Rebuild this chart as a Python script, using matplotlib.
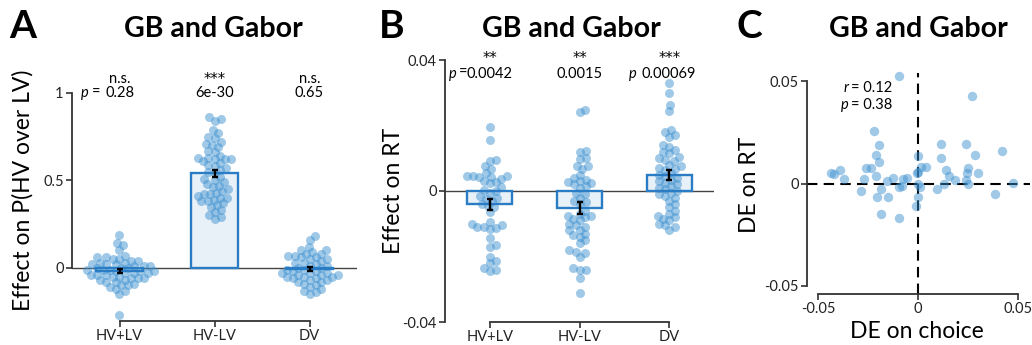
import numpy as np
import matplotlib
matplotlib.use("Agg")
import matplotlib.pyplot as plt

plt.rcParams['font.family'] = ['Lato', 'DejaVu Sans']

# ---- data ----
categories = ["HV+LV", "HV-LV", "DV"]

choice_hvlv_sum = [0.19, 0.14, 0.13, 0.10, 0.07, 0.06, 0.06, 0.05, 0.05, 0.04, 0.04, 0.03, 0.03,
                   0.02, 0.02, 0.02, 0.01, 0.01, 0.01, 0.0, 0.0, 0.0, -0.01, -0.01, -0.01, -0.02,
                   -0.02, -0.02, -0.03, -0.03, -0.03, -0.04, -0.04, -0.04, -0.05, -0.05, -0.06,
                   -0.06, -0.06, -0.07, -0.07, -0.08, -0.08, -0.09, -0.10, -0.10, -0.11, -0.12,
                   -0.13, -0.15, -0.27]
choice_hvlv_diff = [0.86, 0.85, 0.84, 0.79, 0.77, 0.75, 0.74, 0.72, 0.71, 0.70, 0.69, 0.67, 0.66,
                    0.64, 0.63, 0.63, 0.62, 0.62, 0.62, 0.61, 0.60, 0.59, 0.58, 0.57, 0.56, 0.55,
                    0.54, 0.52, 0.51, 0.50, 0.49, 0.48, 0.47, 0.46, 0.45, 0.44, 0.43, 0.42, 0.42,
                    0.41, 0.40, 0.40, 0.39, 0.38, 0.38, 0.37, 0.36, 0.35, 0.33, 0.32, 0.30, 0.29,
                    0.28]
choice_dv = [0.18, 0.16, 0.12, 0.10, 0.10, 0.09, 0.08, 0.08, 0.07, 0.07, 0.06, 0.06, 0.05, 0.05,
             0.04, 0.03, 0.03, 0.02, 0.01, 0.01, 0.0, 0.0, -0.01, -0.01, -0.02, -0.02, -0.03,
             -0.03, -0.03, -0.04, -0.04, -0.04, -0.05, -0.05, -0.05, -0.06, -0.06, -0.07, -0.07,
             -0.08, -0.08, -0.09, -0.10, -0.11, -0.12, -0.13, -0.14, -0.15]

rt_hvlv_sum = [0.0195, 0.0156, 0.0096, 0.0093, 0.0076, 0.0066, 0.0055, 0.0046, 0.0045, 0.0045,
               0.0044, 0.0044, 0.0037, 0.0030, 0.0027, 0.0025, 0.0013, 0.0002, 0.0001, -0.0005,
               -0.0015, -0.0020, -0.0025, -0.0030, -0.0040, -0.0045, -0.0050, -0.0065, -0.0095,
               -0.0100, -0.0105, -0.0110, -0.0110, -0.0112, -0.0115, -0.0145, -0.0165, -0.0170,
               -0.0200, -0.0215, -0.0220, -0.0235, -0.0240, -0.0245]
rt_hvlv_diff = [0.0246, 0.0240, 0.0123, 0.0120, 0.0100, 0.0098, 0.0077, 0.0075, 0.0067, 0.0050,
                0.0040, 0.0035, 0.0030, 0.0027, 0.0025, 0.0020, 0.0015, 0.0010, -0.0005, -0.0010,
                -0.0020, -0.0030, -0.0035, -0.0040, -0.0060, -0.0070, -0.0075, -0.0075, -0.0080,
                -0.0085, -0.0090, -0.0100, -0.0105, -0.0110, -0.0120, -0.0120, -0.0130, -0.0135,
                -0.0140, -0.0150, -0.0160, -0.0180, -0.0185, -0.0190, -0.0200, -0.0235, -0.0240,
                -0.0240, -0.0265, -0.0310]
rt_dv = [0.0330, 0.0300, 0.0262, 0.0243, 0.0185, 0.0180, 0.0170, 0.0165, 0.0140, 0.0135, 0.0125,
         0.0120, 0.0115, 0.0105, 0.0100, 0.0095, 0.0092, 0.0080, 0.0077, 0.0070, 0.0068, 0.0065,
         0.0055, 0.0050, 0.0045, 0.0040, 0.0035, 0.0030, 0.0025, 0.0020, 0.0015, 0.0010, 0.0005,
         0.0000, -0.0005, -0.0010, -0.0015, -0.0020, -0.0030, -0.0040, -0.0050, -0.0060, -0.0070,
         -0.0075, -0.0080, -0.0085, -0.0090, -0.0100, -0.0105, -0.0110, -0.0120]

stars_choice = ["n.s.", "***", "n.s."]
pvals_choice = ["0.28", "6e-30", "0.65"]
stars_rt = ["**", "**", "***"]
pvals_rt = ["0.0042", "0.0015", "0.00069"]

de_choice = [-0.0095, 0.027, -0.022, -0.0193, 0.0113, 0.0238, 0.0418, -0.0212, 0.0, 0.0285,
             -0.0195, 0.0113, -0.0258, -0.0237, -0.039, -0.0435, -0.042, -0.0212, -0.037, -0.0268,
             -0.0153, -0.0125, -0.0057, -0.0077, -0.0078, -0.0093, 0.0, -0.0003, 0.0013, 0.004,
             0.001, 0.0138, 0.0153, 0.0187, 0.0132, 0.0097, 0.0252, 0.0245, 0.0298, 0.0242,
             0.0252, 0.0473, 0.0385, -0.0285, -0.0187, -0.0205, -0.0148, 0.0, -0.0008, -0.0185,
             -0.0095, 0.0]
de_rt = [0.0524, 0.0426, 0.0255, 0.0186, 0.0194, 0.0194, 0.0158, 0.0139, 0.0136, 0.014,
         0.0104, 0.0124, 0.0078, 0.0074, 0.0064, 0.0049, 0.0046, 0.0038, 0.002, 0.0021,
         0.001, 0.0028, 0.0029, 0.0021, -0.0011, -0.0016, 0.0054, 0.005, 0.008, 0.0083,
         -0.0016, 0.0064, 0.0036, 0.0016, -0.0003, -0.0026, 0.0078, 0.0052, 0.0052, 0.0018,
         -0.0002, 0.0001, -0.0049, -0.0036, -0.0025, -0.0064, -0.0067, -0.0064, -0.0108, -0.0149,
         -0.0168, 0.0]
corr_r = "0.12"
corr_p = "0.38"

# ---- style ----
W, H = 1032, 345
dot_color = '#3a8fd0'
bar_edge = '#2a7cc4'
bar_face = '#e8f0f8'
spine_c = '#333333'
fs_small = 10.5


def rect(left, top, right, bottom):
    return [left / W, 1 - bottom / H, (right - left) / W, (bottom - top) / H]


def fx(px):
    return px / W


def fy(py):
    return 1 - py / H


def swarm_offsets(ax, x0, vals, d):
    pts = ax.transData.transform(np.column_stack([np.full(len(vals), x0), vals]))
    ys = pts[:, 1]
    order = np.argsort(ys)
    placed = []
    offs = np.zeros(len(vals))
    for i in order:
        y = ys[i]
        cands = [0.0]
        for px, py in placed:
            dy = abs(py - y)
            if dy < d:
                dx = np.sqrt(d * d - dy * dy)
                cands += [px + dx, px - dx]
        cands.sort(key=abs)
        for c in cands:
            if all((c - px) ** 2 + (y - py) ** 2 >= d * d - 1e-6 for px, py in placed):
                break
        placed.append((c, y))
        offs[i] = c
    x_pix = pts[0, 0] + offs
    return ax.transData.inverted().transform(np.column_stack([x_pix, ys]))[:, 0]


def style_axes(ax):
    for s in ['top', 'right']:
        ax.spines[s].set_visible(False)
    for s in ['left', 'bottom']:
        ax.spines[s].set_color(spine_c)
        ax.spines[s].set_linewidth(1.3)
    ax.tick_params(direction='out', length=4, width=1.2, color=spine_c,
                   labelsize=fs_small, labelcolor='#222222', pad=2)


def bar_panel(ax, groups, ylim):
    ax.set_xlim(-0.5, 2.5)
    ax.set_ylim(*ylim)
    ax.axhline(0, color='#444444', lw=1.0, zorder=1)
    for i, vals in enumerate(groups):
        vals = np.array(vals)
        m = vals.mean()
        sem = vals.std(ddof=1) / np.sqrt(len(vals))
        ax.bar(i, m, width=0.5, color=bar_face, edgecolor='none', zorder=1)
        xs = swarm_offsets(ax, i, vals, 6.3)
        ax.scatter(xs, vals, s=42, color=dot_color, alpha=0.48, linewidths=0, zorder=2)
        ax.bar(i, m, width=0.5, fill=False, edgecolor=bar_edge, linewidth=1.7, zorder=3)
        ax.errorbar(i, m, yerr=sem, color='black', capsize=2.5, elinewidth=1.7,
                    capthick=1.7, zorder=4)
    ax.set_xticks(range(len(categories)))
    ax.set_xticklabels(categories)
    ax.spines['bottom'].set_bounds(0, 2)


fig = plt.figure(figsize=(W / 100, H / 100), dpi=100)

# ---- panel A ----
axA = fig.add_axes(rect(72, 93, 357, 321))
style_axes(axA)
bar_panel(axA, [choice_hvlv_sum, choice_hvlv_diff, choice_dv], (-0.303, 1.0))
axA.set_yticks([0, 0.5, 1])
axA.set_yticklabels(["0", "0.5", "1"])
axA.spines['left'].set_bounds(0, 1)
for i in range(3):
    axA.text(i, 1.078, stars_choice[i], ha='center', va='center', fontsize=fs_small,
             family=['DejaVu Sans'] if '*' in stars_choice[i] else None)
    axA.text(i, 1.0, pvals_choice[i], ha='center', va='center', fontsize=fs_small)
axA.text(-0.33, 1.0, "p", ha='right', va='center', fontsize=fs_small, style='italic')
axA.text(-0.29, 1.0, "=", ha='left', va='center', fontsize=fs_small)

# ---- panel B ----
axB = fig.add_axes(rect(445, 60, 714, 322))
style_axes(axB)
bar_panel(axB, [rt_hvlv_sum, rt_hvlv_diff, rt_dv], (-0.04, 0.04))
axB.set_yticks([-0.04, 0, 0.04])
axB.set_yticklabels(["-0.04", "0", "0.04"])
axB.spines['left'].set_bounds(-0.04, 0.04)
for i in range(3):
    axB.text(i, 0.0405, stars_rt[i], ha='center', va='center', fontsize=fs_small,
             family=['DejaVu Sans'], clip_on=False)
    axB.text(i, 0.0357, pvals_rt[i], ha='center', va='center', fontsize=fs_small)
axB.text(-0.37, 0.0357, "p", ha='right', va='center', fontsize=fs_small, style='italic')
axB.text(-0.35, 0.036, "=", ha='left', va='center', fontsize=fs_small)
axB.text(1.64, 0.0357, "p", ha='right', va='center', fontsize=fs_small, style='italic')

# ---- panel C ----
axC = fig.add_axes(rect(807, 73, 1030, 294))
style_axes(axC)
axC.set_xlim(-0.0555, 0.056)
axC.set_ylim(-0.054, 0.054)
axC.axhline(0, color='black', lw=1.5, ls=(0, (5, 3)), zorder=1)
axC.axvline(0, color='black', lw=1.5, ls=(0, (5, 3)), zorder=1)
axC.scatter(de_choice, de_rt, s=46, color=dot_color, alpha=0.48, linewidths=0, zorder=2,
            clip_on=False)
axC.set_xticks([-0.05, 0, 0.05])
axC.set_xticklabels(["-0.05", "0", "0.05"])
axC.set_yticks([-0.05, 0, 0.05])
axC.set_yticklabels(["-0.05", "0", "0.05"])
axC.spines['left'].set_bounds(-0.05, 0.05)
axC.spines['bottom'].set_bounds(-0.05, 0.05)
axC.text(-0.0345, 0.0465, "r", ha='right', va='center', fontsize=fs_small, style='italic')
axC.text(-0.0335, 0.0465, "= " + corr_r, ha='left', va='center', fontsize=fs_small)
axC.text(-0.0345, 0.0385, "p", ha='right', va='center', fontsize=fs_small, style='italic')
axC.text(-0.0335, 0.0385, "= " + corr_p, ha='left', va='center', fontsize=fs_small)

# ---- labels, titles, panel letters ----
fig.text(fx(23), fy(190), "Effect on P(HV over LV)", rotation=90, ha='center', va='center',
         fontsize=16.5)
fig.text(fx(393), fy(191), "Effect on RT", rotation=90, ha='center', va='center', fontsize=16.5)
fig.text(fx(749), fy(185), "DE on RT", rotation=90, ha='center', va='center', fontsize=16.5)
fig.text(fx(917), fy(331), "DE on choice", ha='center', va='center', fontsize=16.5)

for x, t in [(213, "GB and Gabor"), (571, "GB and Gabor"), (918, "GB and Gabor")]:
    fig.text(fx(x), fy(29), t, ha='center', va='center', fontsize=20.5, fontweight='bold')
for x, t in [(23, "A"), (392, "B"), (749, "C")]:
    fig.text(fx(x), fy(27), t, ha='center', va='center', fontsize=28, fontweight='bold')

fig.savefig("out.png", dpi=100)
